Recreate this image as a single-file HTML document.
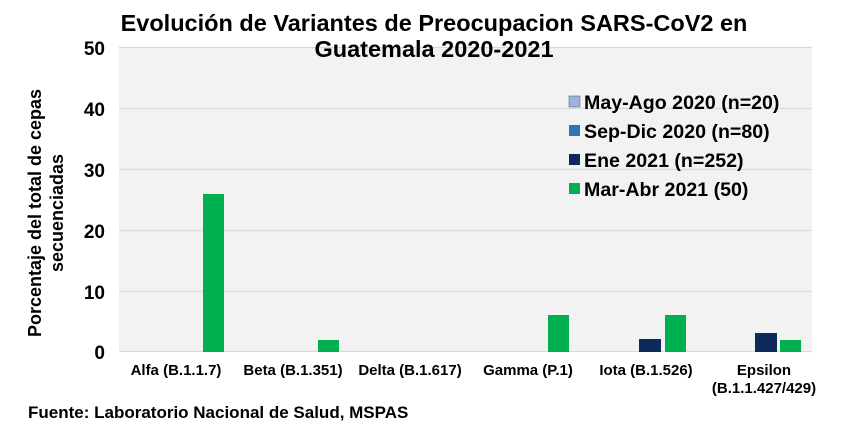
<!DOCTYPE html>
<html><head><style>
body{margin:0;background:#fff;width:862px;height:434px;overflow:hidden}
text{font-family:"Liberation Sans",Arial,sans-serif;font-weight:bold}
</style></head><body>
<svg width="862" height="434" xmlns="http://www.w3.org/2000/svg">
<rect x="119" y="47" width="693" height="305" fill="#f2f2f2"/>
<g stroke="#d9d9d9" stroke-width="1.2">
<line x1="119" y1="47.5" x2="812" y2="47.5"/>
<line x1="119" y1="108.5" x2="812" y2="108.5"/>
<line x1="119" y1="169.5" x2="812" y2="169.5"/>
<line x1="119" y1="230.5" x2="812" y2="230.5"/>
<line x1="119" y1="291.5" x2="812" y2="291.5"/>
<line x1="119" y1="351.5" x2="812" y2="351.5"/>
</g>
<text x="434" y="31" font-size="23.5" text-anchor="middle">Evolución de Variantes de Preocupacion SARS-CoV2 en</text>
<text x="434" y="57" font-size="23.5" text-anchor="middle">Guatemala 2020-2021</text>
<g font-size="19" text-anchor="end">
<text x="105" y="55">50</text><text x="105" y="116">40</text><text x="105" y="177">30</text>
<text x="105" y="238">20</text><text x="105" y="299">10</text><text x="105" y="359">0</text>
</g>
<text transform="translate(41,213) rotate(-90)" font-size="18" text-anchor="middle">Porcentaje del total de cepas</text>
<text transform="translate(63,213) rotate(-90)" font-size="18" text-anchor="middle">secuenciadas</text>
<g fill="#00b050">
<rect x="203" y="194" width="21" height="158"/>
<rect x="318" y="340" width="21" height="12"/>
<rect x="548" y="315" width="21" height="37"/>
<rect x="665" y="315" width="21" height="37"/>
<rect x="780" y="340" width="21" height="12"/>
</g>
<g fill="#0e2a5a">
<rect x="639" y="339" width="22" height="13"/>
<rect x="755" y="333" width="22" height="19"/>
</g>
<g font-size="19.6">
<rect x="569" y="96" width="11" height="11" fill="#9db3e0" stroke="#555" stroke-width="0.5"/><text x="584" y="109">May-Ago 2020 (n=20)</text>
<rect x="569" y="125" width="11" height="11" fill="#2e75b6"/><text x="584" y="138">Sep-Dic 2020 (n=80)</text>
<rect x="569" y="154" width="11" height="11" fill="#0e2a5a"/><text x="584" y="167">Ene 2021 (n=252)</text>
<rect x="569" y="183" width="11" height="11" fill="#00b050"/><text x="584" y="196">Mar-Abr 2021 (50)</text>
</g>
<g font-size="15" text-anchor="middle">
<text x="176" y="375">Alfa (B.1.1.7)</text>
<text x="293" y="375">Beta (B.1.351)</text>
<text x="410" y="375">Delta (B.1.617)</text>
<text x="528" y="375">Gamma (P.1)</text>
<text x="646" y="375">Iota (B.1.526)</text>
<text x="764" y="375">Epsilon</text>
<text x="764" y="393">(B.1.1.427/429)</text>
</g>
<text x="28" y="418" font-size="17">Fuente: Laboratorio Nacional de Salud, MSPAS</text>
</svg>
</body></html>
